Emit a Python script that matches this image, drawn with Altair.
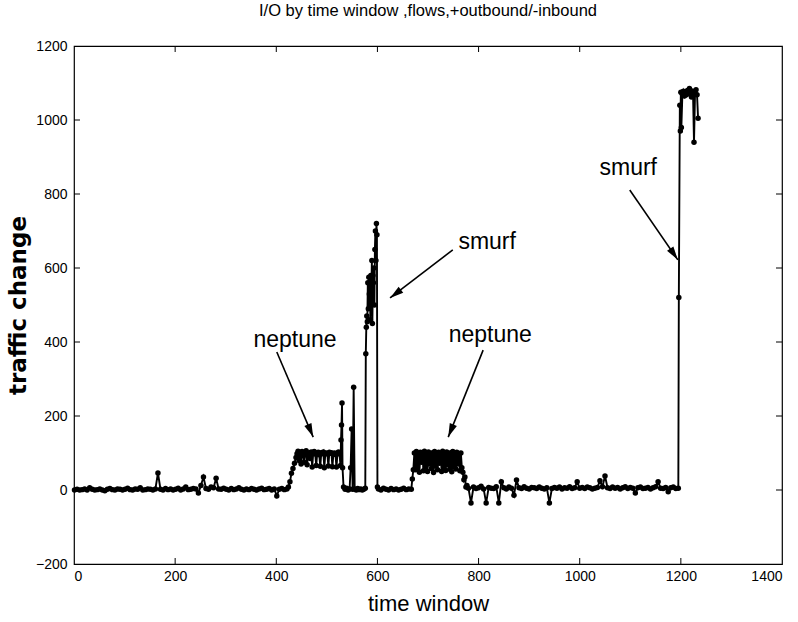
import altair as alt
import pandas as pd

# ---------------- data ----------------
base1_t = [1, 6, 11, 16, 21, 26, 31, 36, 41, 46, 51, 56, 61, 66, 71, 76, 81, 86, 91, 96,
           101, 106, 111, 116, 121, 126, 131, 136, 141, 146, 151, 156, 161, 166, 171, 176, 181, 186, 191, 196,
           201, 206, 211, 216, 221, 226, 231, 236, 241, 246, 251, 256, 261, 266, 271, 276, 281, 286, 291, 296,
           301, 306, 311, 316, 321, 326, 331, 336, 341, 346, 351, 356, 361, 366, 371, 376, 381, 386, 391, 396,
           401, 406, 411, 416, 421]
base1_v = [0, 2, 0, 1, 3, 0, 6, 2, 0, 1,
           3, 0, -2, 2, 4, 1, 0, 3, 2, 0,
           2, 5, 1, 0, 3, 2, 6, 0, 1, 3,
           2, 0, 3, 46, 2, 0, 4, 1, 3, 0,
           2, 5, 0, 3, 8, 1, 2, 4, 3, -8,
           12, 35, 4, 2, 8, 6, 32, 3, 2, 5,
           2, 0, 4, 1, 3, 6, 2, 0, 3, 1,
           4, 2, 0, 3, 5, 1, 2, 4, 0, 3,
           -16, 2, 4, 1, 3]

nep1_t = [424, 427, 430, 433, 436, 439,
          441, 443, 445, 447, 449, 451, 453, 455, 457, 459,
          461, 463, 465, 467, 469, 471, 473, 475, 477, 479,
          481, 483, 485, 487, 489, 491, 493, 495, 497, 499,
          501, 503, 505, 507, 509, 511, 513, 515, 517, 519,
          521, 523, 525, 527]
nep1_v = [8, 22, 45, 58, 72, 88,
          98, 105, 80, 102, 70, 104, 96, 75, 100, 106,
          68, 98, 101, 85, 103, 62, 99, 104, 97, 66,
          100, 102, 95, 64, 101, 98, 103, 60, 99, 100,
          97, 65, 102, 99, 101, 63, 98, 100, 96, 62,
          100, 103, 97, 66]

spike_t = [528, 529, 530, 531, 533, 536, 539, 542, 545, 547, 549, 551, 553, 555,
           558, 561, 564, 567, 570, 573, 576]
spike_v = [135, 176, 235, 60, 8, 2, 5, 0, 3, 60, 165, 2, 278, 3,
           0, 4, 1, 3, 0, 2, 5]

smurf1_t = [577, 578, 579, 580, 581, 582, 583, 584, 585, 586, 587, 588,
            589, 590, 591, 592, 593, 594, 595, 596, 597, 598, 599, 600]
smurf1_v = [368, 440, 470, 455, 560, 490, 575, 530, 560, 460, 580, 540,
            620, 450, 580, 560, 600, 500, 650, 700, 620, 720, 690, 8]

base2_t = [602, 607, 612, 617, 622, 627, 632, 637, 642, 647, 652, 657, 662, 667]
base2_v = [3, 0, 5, 2, 0, 4, 1, 3, 0, 2, 5, 1, 3, 2]

nep2_t = [669, 671,
          673, 675, 677, 679, 681, 683, 685, 687, 689, 691,
          693, 695, 697, 699, 701, 703, 705, 707, 709, 711,
          713, 715, 717, 719, 721, 723, 725, 727, 729, 731,
          733, 735, 737, 739, 741, 743, 745, 747, 749, 751,
          753, 755, 757, 759, 761, 763, 765, 767,
          769, 771, 773, 775, 777]
nep2_v = [30, 55,
          100, 55, 104, 60, 98, 48, 102, 75, 96, 52,
          105, 62, 99, 50, 103, 70, 97, 58, 101, 47,
          104, 65, 98, 55, 102, 72, 96, 50, 105, 60,
          100, 53, 103, 68, 97, 56, 101, 49, 104, 63,
          99, 57, 102, 70, 98, 52, 100, 60,
          48, 28, 35, 8, 12]

base3_t = [780, 785, 790, 795, 800, 805, 810, 815, 820, 825,
           830, 835, 840, 845, 850, 855, 860, 865, 870, 875,
           880, 885, 890, 895, 900, 905, 910, 915, 920, 925,
           930, 935, 940, 945, 950, 955, 960, 965, 970, 975,
           980, 985, 990, 995, 1000, 1005, 1010, 1015, 1020, 1025,
           1030, 1035, 1040, 1045, 1050, 1055, 1060, 1065, 1070, 1075,
           1080, 1085, 1090, 1095, 1100, 1105, 1110, 1115, 1120, 1125,
           1130, 1135, 1140, 1145, 1150, 1155, 1160, 1165, 1170, 1175,
           1180, 1185, 1190, 1195]
base3_v = [5, -35, 8, 4, 6, 10, 3, -35, 7, 5,
           4, 9, -35, 22, 6, 3, 8, 5, -14, 27,
           6, 4, 9, 5, 3, 7, 6, 4, 8, 5,
           3, 6, -35, 4, 7, 5, 8, 3, 6, 5,
           9, 4, 6, 22, 5, 7, 4, 8, 6, 3,
           5, 7, 25, 9, 38, 6, 4, 8, 5, 7,
           3, 6, 9, 4, 7, 5, -8, 6, 8, 4,
           5, 7, 3, 6, 9, 22, 5, 4, 7, -5,
           6, 8, 4, 5]

smurf2_t = [1196, 1198, 1199, 1200, 1201, 1203, 1205, 1207, 1209, 1211, 1213,
            1215, 1217, 1219, 1221, 1223, 1224, 1226, 1228, 1230, 1232, 1234]
smurf2_v = [520, 1040, 970, 1075, 980, 1070, 1078, 1065, 1072, 1068, 1080,
            1074, 1085, 1070, 1062, 1078, 1075, 940, 1070, 1082, 1068, 1005]

x_ticks = [0, 200, 400, 600, 800, 1000, 1200, 1400]
y_ticks = [-200, 0, 200, 400, 600, 800, 1000, 1200]
x_inner = [200, 400, 600, 800, 1000, 1200]
y_inner = [0, 200, 400, 600, 800, 1000]

ann_text = ["neptune", "smurf", "neptune", "smurf"]
ann_x = [437, 817, 823, 1096]
ann_y = [405, 671, 419, 870]

arr_x1 = [401, 749, 809, 1099]
arr_y1 = [373, 649, 378, 811]
arr_x2 = [473, 625, 740, 1194]
arr_y2 = [143, 519, 143, 622]
arr_ang = [157, 233, 202, 146]

title_text = "I/O by time window ,flows,+outbound/-inbound"

# ---------------- build ----------------
times = base1_t + nep1_t + spike_t + smurf1_t + base2_t + nep2_t + base3_t + smurf2_t
vals = base1_v + nep1_v + spike_v + smurf1_v + base2_v + nep2_v + base3_v + smurf2_v
df = pd.DataFrame({"t": times, "v": vals})

W, H = 708, 518
SANS = "Liberation Sans, Arial, sans-serif"

xs = alt.Scale(domain=[0, 1400], nice=False, zero=False)
ys = alt.Scale(domain=[-200, 1200], nice=False, zero=False)

x_axis = alt.Axis(
    values=x_ticks, title="time window", format="d",
    labelPadding=5, titleFont=SANS, titleFontSize=22, titleFontWeight="normal",
    titleY=39, titleBaseline="middle")
y_axis = alt.Axis(
    values=y_ticks, title="traffic change", format="d",
    labelPadding=7, titleFont="DejaVu Sans, sans-serif", titleFontSize=23,
    titleFontWeight="bold", titleX=-56, titleY=H / 2, titleBaseline="middle")

line = alt.Chart(df).mark_line(
    color="black", strokeWidth=1.9,
    point=alt.OverlayMarkDef(filled=True, color="black", size=30, opacity=1),
).encode(
    x=alt.X("t:Q", scale=xs, axis=x_axis),
    y=alt.Y("v:Q", scale=ys, axis=y_axis),
)

xt = pd.DataFrame({"t": x_inner})
yt = pd.DataFrame({"v": y_inner})
tick_x_bot = alt.Chart(xt).mark_rule(color="black", strokeWidth=1).encode(
    x=alt.X("t:Q", scale=xs, axis=x_axis), y=alt.value(H), y2=alt.value(H - 6))
tick_x_top = alt.Chart(xt).mark_rule(color="black", strokeWidth=1).encode(
    x=alt.X("t:Q", scale=xs, axis=x_axis), y=alt.value(0), y2=alt.value(6))
tick_y_left = alt.Chart(yt).mark_rule(color="black", strokeWidth=1).encode(
    y=alt.Y("v:Q", scale=ys, axis=y_axis), x=alt.value(0), x2=alt.value(6))
tick_y_right = alt.Chart(yt).mark_rule(color="black", strokeWidth=1).encode(
    y=alt.Y("v:Q", scale=ys, axis=y_axis), x=alt.value(W), x2=alt.value(W - 6))

ann_df = pd.DataFrame({"t": ann_x, "v": ann_y, "label": ann_text})
ann = alt.Chart(ann_df).mark_text(
    font=SANS, fontSize=23, color="black", align="center", baseline="middle"
).encode(
    x=alt.X("t:Q", scale=xs, axis=x_axis), y=alt.Y("v:Q", scale=ys, axis=y_axis),
    text="label:N")

arr_df = pd.DataFrame({"t": arr_x1, "v": arr_y1, "t2": arr_x2, "v2": arr_y2, "ang": arr_ang})
arr_line = alt.Chart(arr_df).mark_rule(color="black", strokeWidth=1.6).encode(
    x=alt.X("t:Q", scale=xs, axis=x_axis), y=alt.Y("v:Q", scale=ys, axis=y_axis),
    x2="t2:Q", y2="v2:Q")
arr_head = alt.Chart(arr_df).mark_point(
    shape="M0,0L0.45,1.6L-0.45,1.6Z", filled=True, color="black", size=289, opacity=1
).encode(
    x=alt.X("t2:Q", scale=xs, axis=x_axis), y=alt.Y("v2:Q", scale=ys, axis=y_axis),
    angle=alt.Angle("ang:Q", scale=None))

chart = alt.layer(
    line, tick_x_bot, tick_x_top, tick_y_left, tick_y_right, arr_line, arr_head, ann
).properties(
    width=W, height=H,
    title=alt.TitleParams(title_text, font=SANS, fontSize=16.5, fontWeight="normal",
                          color="black", anchor="middle", offset=20),
    padding={"left": 74, "top": 46, "right": 16, "bottom": 58},
    autosize=alt.AutoSizeParams(type="none"),
    background="white",
).configure_view(
    stroke="black", strokeWidth=1.2
).configure_axis(
    grid=False, domain=False, ticks=False,
    labelFont=SANS, labelFontSize=14, labelColor="black",
    titleColor="black",
)

chart.save("out.html", embed_options={"renderer": "svg", "actions": False})
